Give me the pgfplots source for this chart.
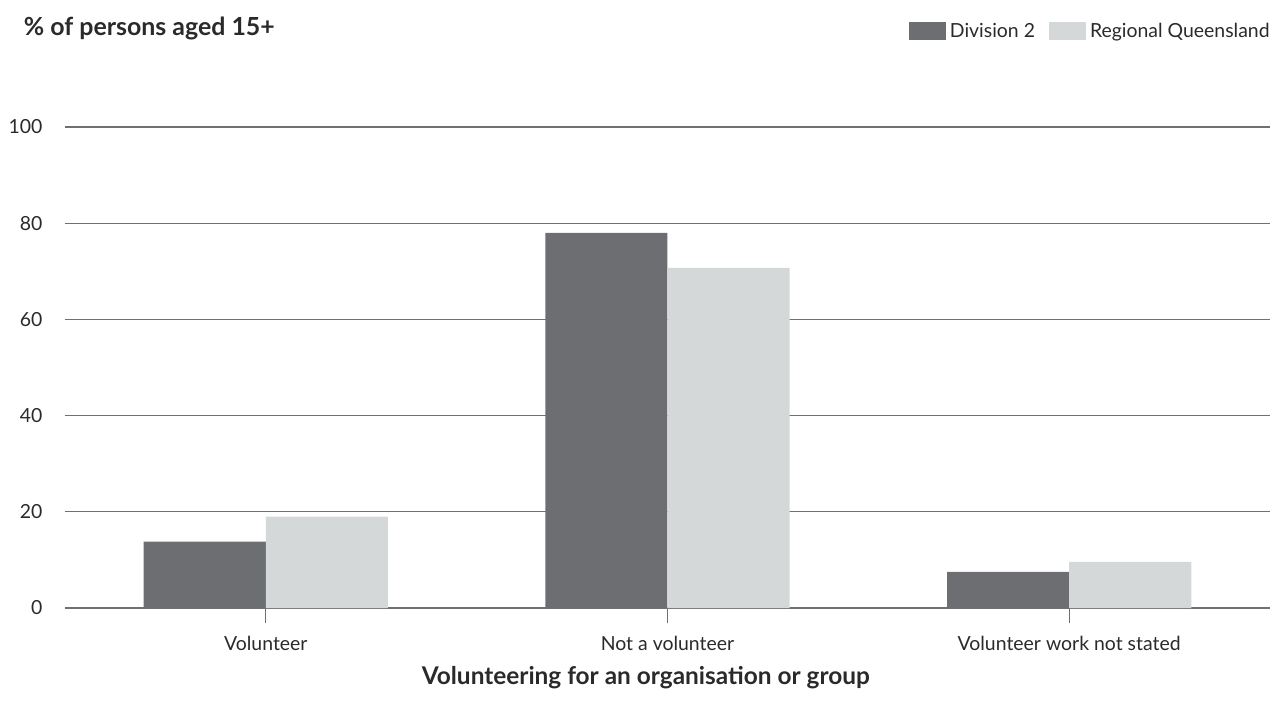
\documentclass[border=0pt]{standalone}
\usepackage{pgfplots}
\pgfplotsset{compat=1.18}
\usepackage{fontspec}
\setmainfont{Lato}
\definecolor{divc}{HTML}{6D6E71}
\definecolor{regc}{HTML}{D5D8D9}
\definecolor{gridc}{HTML}{707070}
\definecolor{txt}{HTML}{2A2A2A}
\begin{document}
\begin{tikzpicture}
\begin{axis}[
  at={(0,0)}, anchor=south west,
  scale only axis,
  width=1205bp, height=481bp,
  xmin=-0.5, xmax=2.5, ymin=0, ymax=100,
  ybar, bar width=0.304,
  xtick={0,1,2},
  xticklabels={Volunteer, Not a volunteer, Volunteer work not stated},
  ytick={0,20,40,60,80,100},
  ymajorgrids,
  grid style={gridc, line width=1.2bp},
  axis x line*=bottom, axis y line*=left,
  x axis line style={gridc, line width=1.2bp},
  y axis line style={draw=none},
  x tick style={gridc, line width=1.2bp},
  major tick length=15bp,
  tick align=outside,
  y tick style={draw=none},
  xtick pos=bottom,
  tick label style={font=\fontsize{19.5}{23}\selectfont, text=txt},
  xticklabel style={yshift=-10bp},
  yticklabel style={xshift=-4bp},
  /pgf/number format/assume math mode=true,
  clip=false,
  legend columns=2,
  legend style={at={(1.004,1.2)}, anchor=east, draw=none, fill=none,
    font=\fontsize{19.5}{23}\selectfont, text=txt,
    /tikz/every odd column/.append style={column sep=2bp},
    /tikz/every even column/.append style={column sep=12bp}},
  legend image code/.code={\fill[#1] (0bp,-9bp) rectangle (37bp,9bp);},
]
\addplot[fill=divc, draw=none, bar shift=-0.152] coordinates {(0,13.8) (1,78.0) (2,7.5)};
\addplot[fill=regc, draw=none, bar shift=0.152] coordinates {(0,19.0) (1,70.7) (2,9.6)};
\legend{Division 2, Regional Queensland}
\node[anchor=west, font=\fontsize{25}{30}\selectfont\bfseries, text=txt] at (axis description cs:-0.037,1.205) {\% of persons aged 15+};
\node[font=\fontsize{24.5}{30}\selectfont\bfseries, text=txt] at (axis description cs:0.482,-0.145) {Volunteering for an organisation or group};
\end{axis}
\path[use as bounding box] (-65bp,-109bp) rectangle (1219bp,608bp);
\end{tikzpicture}
\end{document}
